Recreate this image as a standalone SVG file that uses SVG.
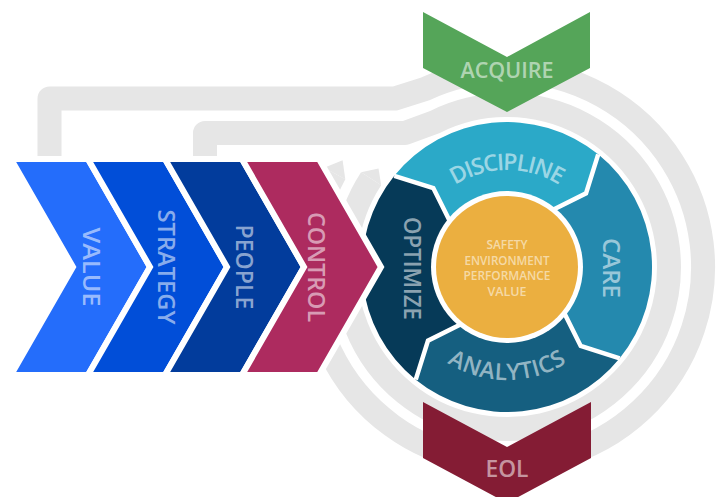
<svg xmlns="http://www.w3.org/2000/svg" width="725" height="497" viewBox="0 0 725 497">
<defs>
<style>
.ring{fill:none;stroke:#e6e6e6;stroke-width:24;stroke-linejoin:round}
.tip{fill:#e6e6e6}
.chev{stroke:#fff;stroke-width:6;stroke-linejoin:miter}
.lbl{font-family:"Open Sans","Liberation Sans",sans-serif;font-weight:600;fill:#fff;fill-opacity:0.55;text-anchor:middle}
.sep{fill:none;stroke:#fff;stroke-width:4.5;stroke-linejoin:miter}
</style>
<path id="arcTop" d="M410,267 A97,97 0 0 1 604,267"/>
<path id="arcBot" d="M394,267 A113,113 0 0 0 620,267"/>
</defs>
<rect width="725" height="497" fill="#fff"/>
<g id="connectors">
<path class="ring" d="M49.5,168 L49.5,98.5 L395,98.5 L425,89 A196,196 0 1 1 334.8,173.5"/>
<polygon class="tip" points="324.2,167.7 342.6,160.3 345.3,179.2"/>
<path class="ring" d="M205,168 L205,133 L405,133 L435,121.9 A162,162 0 1 1 371.1,178.8"/>
<polygon class="tip" points="361.1,172.2 378.5,168.4 381.2,185.3"/>
</g>
<g id="acquire">
<polygon points="423,12 507,57 590,12 590,68 507,112 423,68" fill="#55a559"/>
<text class="lbl" x="507" y="78" font-size="21" textLength="93" lengthAdjust="spacingAndGlyphs" fill-opacity="0.6">ACQUIRE</text>
</g>
<g id="eol">
<polygon points="423,402 507,447 591,402 591,458 507,503 423,458" fill="#841c34"/>
<text class="lbl" x="507" y="477" font-size="23" textLength="43" lengthAdjust="spacingAndGlyphs">EOL</text>
</g>
<g id="cycle">
<g id="discipline">
<path d="M598.2,154.3 A145,145 0 0 0 394.3,175.8 L433.3,188 L449.5,220.4 A74,74 0 0 1 553.6,209.5 L586,193.3 Z" fill="#2ba9c8"/>
<text class="lbl" font-size="23"><textPath href="#arcTop" startOffset="50%" textLength="110" lengthAdjust="spacing">DISCIPLINE</textPath></text>
</g>
<g id="optimize">
<path d="M394.3,175.8 A145,145 0 0 0 415.75,379.7 L428,340.7 L460.4,324.5 A74,74 0 0 1 449.5,220.4 L433.3,188 Z" fill="#063a58"/>
<text class="lbl" font-size="23" transform="translate(412.5,268.5) rotate(90)" x="0" y="8.2" textLength="103" lengthAdjust="spacingAndGlyphs">OPTIMIZE</text>
</g>
<g id="analytics">
<path d="M415.75,379.7 A145,145 0 0 0 619.7,358.3 L580.7,346 L564.5,313.6 A74,74 0 0 1 460.4,324.5 L428,340.7 Z" fill="#155f80"/>
<text class="lbl" font-size="23"><textPath href="#arcBot" startOffset="50%" textLength="126" lengthAdjust="spacing">ANALYTICS</textPath></text>
</g>
<g id="care">
<path d="M619.7,358.3 A145,145 0 0 0 598.2,154.3 L586,193.3 L553.6,209.5 A74,74 0 0 1 564.5,313.6 L580.7,346 Z" fill="#2489ae"/>
<text class="lbl" font-size="23" transform="translate(611,268) rotate(90)" x="0" y="8.2" textLength="60" lengthAdjust="spacingAndGlyphs">CARE</text>
</g>
<polyline class="sep" points="598.2,154.3 586,193.3 553.6,209.5"/>
<polyline class="sep" points="394.3,175.8 433.3,188 449.5,220.4"/>
<polyline class="sep" points="415.75,379.7 428,340.7 460.4,324.5"/>
<polyline class="sep" points="619.7,358.3 580.7,346 564.5,313.6"/>
</g>
<g id="center">
<circle cx="507" cy="267" r="76" fill="#fff"/>
<circle cx="507" cy="267" r="71" fill="#ebaf40"/>
<text class="lbl" font-size="12" x="507" y="249" textLength="41" lengthAdjust="spacingAndGlyphs">SAFETY</text>
<text class="lbl" font-size="12" x="507" y="264.5" textLength="85" lengthAdjust="spacingAndGlyphs">ENVIRONMENT</text>
<text class="lbl" font-size="12" x="507" y="280" textLength="87" lengthAdjust="spacingAndGlyphs">PERFORMANCE</text>
<text class="lbl" font-size="12" x="507" y="295.5" textLength="39" lengthAdjust="spacingAndGlyphs">VALUE</text>
</g>
<g id="value">
<polygon class="chev" points="11,159 88,159 150,267 88,375 11,375 73,267" fill="#246dfb"/>
<text class="lbl" font-size="24" transform="translate(91,267) rotate(90)" x="0" y="8.5" textLength="79" lengthAdjust="spacingAndGlyphs">VALUE</text>
</g>
<g id="strategy">
<polygon class="chev" points="88,159 165,159 227,267 165,375 88,375 150,267" fill="#014ed8"/>
<text class="lbl" font-size="24" transform="translate(166,267) rotate(90)" x="0" y="8.5" textLength="115" lengthAdjust="spacingAndGlyphs">STRATEGY</text>
</g>
<g id="people">
<polygon class="chev" points="165,159 242,159 304,267 242,375 165,375 227,267" fill="#023c9c"/>
<text class="lbl" font-size="24" transform="translate(244,267) rotate(90)" x="0" y="8.5" textLength="85" lengthAdjust="spacingAndGlyphs">PEOPLE</text>
</g>
<g id="control">
<polygon class="chev" points="242,159 319,159 381,267 319,375 242,375 304,267" fill="#ad2b5f"/>
<text class="lbl" font-size="24" transform="translate(316.5,267) rotate(90)" x="0" y="8.5" textLength="110" lengthAdjust="spacingAndGlyphs">CONTROL</text>
</g>
</svg>
